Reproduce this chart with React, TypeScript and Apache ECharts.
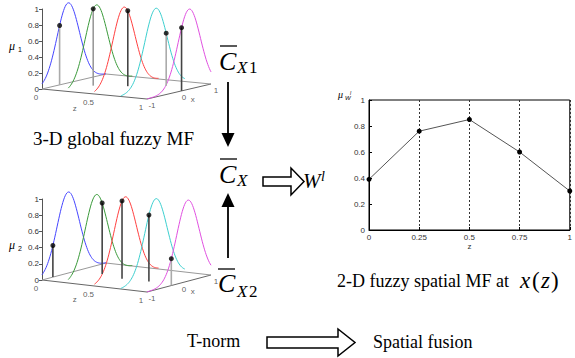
import React, { useEffect, useRef } from "react";
import * as echarts from "echarts";

// ---- data ----
const Z_SLICES = [0, 0.25, 0.5, 0.75, 1];
const CURVE_COLORS = ["#4545ff", "#3a9a3a", "#ff4040", "#3ccfcf", "#e050e0"];
const SIGMA = 0.35;
const TOP_CENTERS = [-0.18, -0.12, -0.08, 0.1, 0.32];
const TOP_DOT_X = [-0.45, -0.22, 0.04, 0.42, 0.08];
const TOP_STEM_COLORS = ["#aaaaaa", "#999999", "#444444", "#aaaaaa", "#444444"];
const BOT_CENTERS = [-0.18, -0.12, -0.04, 0.1, 0.28];
const BOT_DOT_X = [-0.66, 0.06, -0.14, -0.12, -0.24];
const BOT_STEM_COLORS = ["#444444", "#444444", "#444444", "#444444", "#aaaaaa"];
const Z_TICKS = [0, 0.5, 1];
const X_TICKS = [-1, 0, 1];
const W_Z = [0, 0.25, 0.5, 0.75, 1];
const W_MU = [0.39, 0.76, 0.85, 0.6, 0.3];

type Proj = { dzx: number; dzy: number; dxx: number; dxy: number; h: number };
const TOP_PROJ: Proj = { dzx: 105, dzy: 10, dxx: 32, dxy: -7.5, h: 80 };
const BOT_PROJ: Proj = { dzx: 105, dzy: 12, dxx: 32, dxy: -8.5, h: 81 };

const SANS = '"Liberation Sans", Arial, sans-serif';
const SERIF = '"Liberation Serif", "Times New Roman", serif';

function project(p: Proj, z: number, x: number, mu: number): number[] {
  const sx = p.dzx * z + p.dxx * (x + 1);
  const sy = p.dzy * z + p.dxy * (x + 1);
  return [sx, mu - sy / p.h];
}
function gauss(x: number, c: number, s: number) {
  return Math.exp(-((x - c) * (x - c)) / (2 * s * s));
}

function build3D(g: number, p: Proj, centers: number[], dotX: number[], stemColors: string[]) {
  const series: any[] = [];
  const xs: number[] = [];
  for (let i = 0; i <= 80; i++) xs.push(-1 + i * 0.025);
  const common = { xAxisIndex: g, yAxisIndex: g, clip: false, silent: true, animation: false };
  centers.forEach((c, i) => {
    series.push({
      ...common,
      type: "line",
      symbol: "none",
      data: xs.map((x) => project(p, Z_SLICES[i], x, gauss(x, c, SIGMA))),
      lineStyle: { color: CURVE_COLORS[i], width: 1 },
      z: 3,
    });
  });
  series.push({
    ...common,
    type: "line",
    symbol: "none",
    data: [project(p, 0, -1, 0), project(p, 1, -1, 0), project(p, 1, 1, 0)],
    lineStyle: { color: "#666", width: 1 },
    z: 2,
  });
  series.push({
    ...common,
    type: "line",
    symbol: "none",
    data: [project(p, 0, -1, 0), project(p, 0, 1, 0), project(p, 1, 1, 0)],
    lineStyle: { color: "#999", width: 1 },
    z: 2,
  });
  dotX.forEach((x, i) => {
    const mu = gauss(x, centers[i], SIGMA);
    series.push({
      ...common,
      type: "line",
      symbol: "none",
      data: [project(p, Z_SLICES[i], x, 0), project(p, Z_SLICES[i], x, mu)],
      lineStyle: { color: stemColors[i], width: 1.6 },
      z: 4,
    });
  });
  series.push({
    ...common,
    type: "scatter",
    symbol: "circle",
    symbolSize: 5,
    itemStyle: { color: "#000" },
    data: dotX.map((x, i) => project(p, Z_SLICES[i], x, gauss(x, centers[i], SIGMA))),
    z: 6,
  });
  series.push({
    ...common,
    type: "scatter",
    symbolSize: 0,
    label: { show: true, position: "inside", fontSize: 8, color: "#333", fontFamily: SANS },
    data: [
      ...Z_TICKS.map((z) => ({ value: project(p, z, -1, 0), label: { formatter: String(z), offset: [-6, 8] } })),
      ...X_TICKS.map((x) => ({ value: project(p, 1, x, 0), label: { formatter: String(x), offset: [5, 6] } })),
      { value: project(p, 0.33, -1, 0), label: { formatter: "z", offset: [-2, 16] } },
      { value: project(p, 1, 0.4, 0), label: { formatter: "x", offset: [1, 11] } },
    ],
    z: 6,
  });
  return series;
}

function axis3D(g: number) {
  return {
    gridIndex: g,
    type: "value",
    min: 0,
    max: 1,
    interval: 0.2,
    axisLine: { show: true, lineStyle: { color: "#555", width: 1 } },
    axisTick: { show: true, inside: false, length: 3, lineStyle: { color: "#555" } },
    axisLabel: { fontSize: 8, color: "#333", fontFamily: SANS, margin: 3 },
    splitLine: { show: false },
  };
}

function txt(x: number, baseline: number, text: string, size: number, opts: any = {}) {
  return {
    type: "text",
    x,
    y: baseline - 0.34 * size,
    style: {
      text,
      fill: "#000",
      font: `${opts.italic ? "italic " : ""}${size}px ${opts.family || SERIF}`,
      align: opts.align || "left",
      verticalAlign: "middle",
    },
  };
}

export default function App() {
  const ref = useRef<HTMLDivElement>(null);
  useEffect(() => {
    if (!ref.current) return;
    const chart = echarts.init(ref.current, null, { renderer: "svg" });
    const graphics: any[] = [
      // 3D chart mu labels
      txt(9, 50, "μ", 12, { italic: true }),
      txt(18, 52, "1", 7, { family: SANS }),
      txt(9, 249, "μ", 12, { italic: true }),
      txt(18, 251, "2", 7, { family: SANS }),
      // right chart mu label
      txt(338, 98, "μ", 10, { italic: true }),
      txt(345, 100, "W", 6, { italic: true, family: SANS }),
      txt(350, 95, "l", 5, { italic: true, family: SANS }),
      // captions
      txt(33, 145, "3-D global fuzzy MF", 19),
      txt(337, 287, "2-D fuzzy spatial MF at", 18),
      txt(520, 288, "x", 23, { italic: true }),
      txt(532, 288, "(", 23),
      txt(541, 288, "z", 23, { italic: true }),
      txt(551, 288, ")", 23),
      txt(187, 347, "T-norm", 18),
      txt(373, 348, "Spatial fusion", 18),
      // C-bar labels
      txt(219, 70, "C", 26, { italic: true }),
      txt(237, 73, "X", 17, { italic: true }),
      txt(249, 73, "1", 17),
      txt(219, 183, "C", 26, { italic: true }),
      txt(237, 186, "X", 17, { italic: true }),
      txt(218, 292, "C", 26, { italic: true }),
      txt(237, 297, "X", 17, { italic: true }),
      txt(249, 297, "2", 17),
      { type: "line", shape: { x1: 220, y1: 46, x2: 237, y2: 46 }, style: { stroke: "#000", lineWidth: 1.3 } },
      { type: "line", shape: { x1: 220, y1: 159, x2: 237, y2: 159 }, style: { stroke: "#000", lineWidth: 1.3 } },
      { type: "line", shape: { x1: 218, y1: 269, x2: 235, y2: 269 }, style: { stroke: "#000", lineWidth: 1.3 } },
      // W^l
      txt(303, 188, "W", 21, { italic: true }),
      txt(321, 181, "l", 14, { italic: true }),
      // solid arrows
      { type: "line", shape: { x1: 228, y1: 82, x2: 228, y2: 134 }, style: { stroke: "#000", lineWidth: 1.8 } },
      { type: "polygon", shape: { points: [[221.5, 133], [234.5, 133], [228, 147]] }, style: { fill: "#000" } },
      { type: "line", shape: { x1: 228, y1: 206, x2: 228, y2: 258 }, style: { stroke: "#000", lineWidth: 1.8 } },
      { type: "polygon", shape: { points: [[221.5, 207], [234.5, 207], [228, 193]] }, style: { fill: "#000" } },
      // hollow arrows
      {
        type: "polygon",
        shape: { points: [[263, 177], [291, 177], [291, 168], [304, 181.5], [291, 195], [291, 186], [263, 186]] },
        style: { fill: "#fff", stroke: "#000", lineWidth: 1.5 },
      },
      {
        type: "polygon",
        shape: { points: [[267, 337], [338, 337], [338, 329], [355, 342.5], [338, 356], [338, 348], [267, 348]] },
        style: { fill: "#fff", stroke: "#000", lineWidth: 1.5 },
      },
    ];

    const option: any = {
      animation: false,
      grid: [
        { left: 42, top: 9, width: 175, height: 80 },
        { left: 42, top: 199, width: 175, height: 81 },
        { left: 369, top: 100, width: 205, height: 130, show: true, borderColor: "#000", borderWidth: 1, backgroundColor: "transparent" },
      ],
      xAxis: [
        { gridIndex: 0, type: "value", min: 0, max: 175, show: false },
        { gridIndex: 1, type: "value", min: 0, max: 175, show: false },
        {
          gridIndex: 2,
          type: "value",
          min: 0,
          max: 1,
          interval: 0.25,
          name: "z",
          nameLocation: "middle",
          nameGap: 12,
          nameTextStyle: { fontSize: 8, color: "#333", fontFamily: SANS },
          axisLine: { show: true, lineStyle: { color: "#000", width: 1 } },
          axisTick: { show: true, inside: true, length: 3, lineStyle: { color: "#000" } },
          axisLabel: { fontSize: 8, color: "#333", fontFamily: SANS, margin: 3 },
          splitLine: { show: true, lineStyle: { color: "#333", width: 1, type: [2, 2] } },
        },
      ],
      yAxis: [
        axis3D(0),
        axis3D(1),
        {
          gridIndex: 2,
          type: "value",
          min: 0,
          max: 1,
          interval: 0.2,
          axisLine: { show: true, lineStyle: { color: "#000", width: 1 } },
          axisTick: { show: true, inside: true, length: 3, lineStyle: { color: "#000" } },
          axisLabel: { fontSize: 8, color: "#333", fontFamily: SANS, margin: 4 },
          splitLine: { show: false },
        },
      ],
      series: [
        ...build3D(0, TOP_PROJ, TOP_CENTERS, TOP_DOT_X, TOP_STEM_COLORS),
        ...build3D(1, BOT_PROJ, BOT_CENTERS, BOT_DOT_X, BOT_STEM_COLORS),
        {
          type: "line",
          xAxisIndex: 2,
          yAxisIndex: 2,
          data: W_Z.map((z, i) => [z, W_MU[i]]),
          symbol: "circle",
          symbolSize: 5,
          showSymbol: true,
          clip: false,
          itemStyle: { color: "#000" },
          lineStyle: { color: "#555", width: 1 },
          silent: true,
        },
      ],
      graphic: { elements: graphics },
    };
    chart.setOption(option);
    return () => chart.dispose();
  }, []);
  return (
    <div
      ref={ref}
      style={{ position: "fixed", left: 0, top: 0, width: 575, height: 358, background: "#fff" }}
    />
  );
}
